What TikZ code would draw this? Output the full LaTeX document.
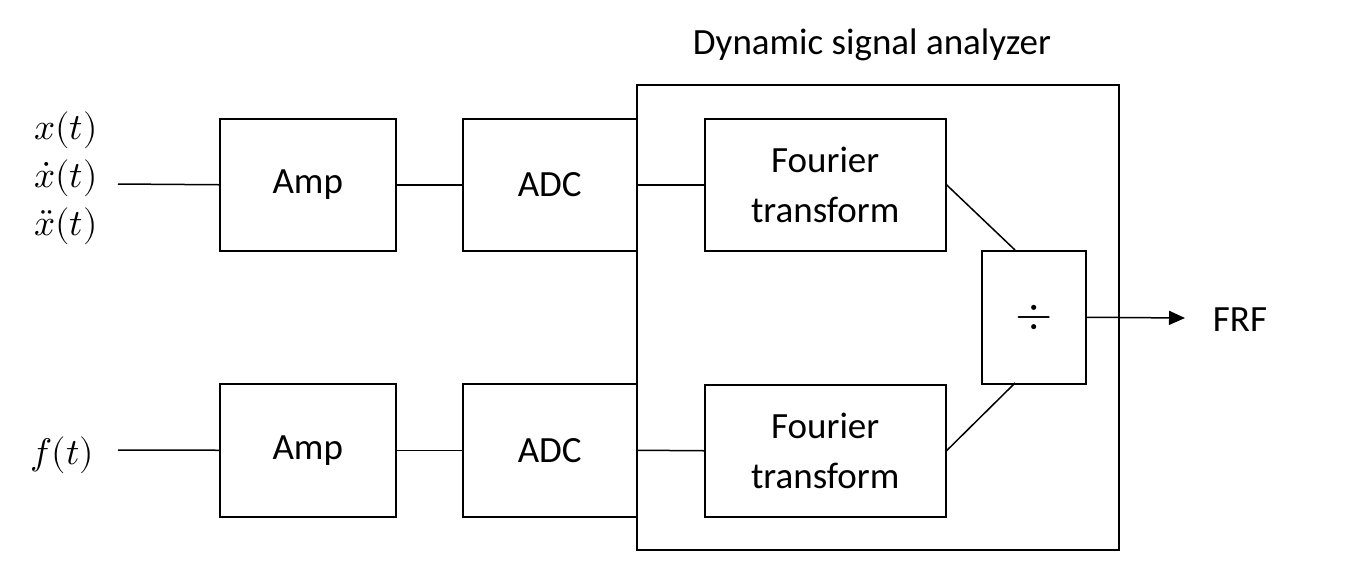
\documentclass[tikz,border=0pt]{standalone}
\usepackage{fontspec}
\usepackage{unicode-math}
\setmainfont{Carlito}
\setmathfont{Latin Modern Math}
\usetikzlibrary{arrows.meta}
\begin{document}
\begin{tikzpicture}[x=1pt,y=-1pt,
  box/.style={draw,line width=1.5pt,inner sep=0pt,anchor=north west,align=center,font=\fontsize{37}{46}\selectfont},
  ln/.style={line width=1.5pt},
  lbl/.style={font=\fontsize{37}{46}\selectfont}]
\useasboundingbox (0,0) rectangle (1347,582);
\node[box,minimum width=482,minimum height=465] (dsa) at (636,84) {};
\node[lbl] (title) at (872,45) {Dynamic signal analyzer};
\node[box,minimum width=176,minimum height=132] (amp1) at (219,118) {Amp};
\node[box,minimum width=176,minimum height=133] (amp2) at (219,383) {Amp};
\node[box,minimum width=174,minimum height=132] (adc1) at (462,118) {ADC};
\node[box,minimum width=174,minimum height=133] (adc2) at (462,383) {ADC};
\node[box,minimum width=241,minimum height=132] (ft1) at (704,118) {Fourier\\[4pt]transform};
\node[box,minimum width=241,minimum height=132] (ft2) at (704,384) {Fourier\\[4pt]transform};
\node[box,minimum width=104,minimum height=133,font=\fontsize{48}{50}\selectfont] (div) at (981,250) {$\div$};
\node[lbl] (frf) at (1240,320) {FRF};
\node[lbl,align=center] (x) at (66,178) {$x(t)$\\[2pt]$\dot x(t)$\\[2pt]$\ddot x(t)$};
\node[lbl] (f) at (62,455) {$f(t)$};
\coordinate (in1) at (118,184);
\coordinate (in2) at (118,450);
\draw[ln] (in1) -- (amp1.west);
\draw[ln] (in2) -- (amp2.west);
\draw[ln] (amp1.east) -- (adc1.west);
\draw[ln] (amp2.east) -- (adc2.west);
\draw[ln] (adc1.east) -- (ft1.west);
\draw[ln] (adc2.east) -- (ft2.west);
\draw[ln] (ft1.east) -- (1015,250);
\draw[ln] (ft2.east) -- (1015,383);
\draw[ln,-{Triangle[length=16pt,width=14pt]}] (div.east) -- (1185,318);
\end{tikzpicture}
\end{document}
